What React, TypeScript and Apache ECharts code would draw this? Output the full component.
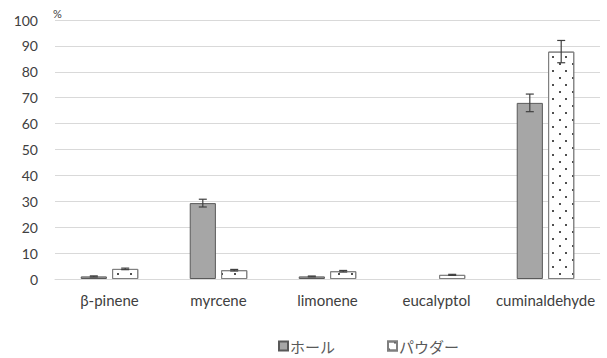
import React, { useEffect, useRef } from "react";
import * as echarts from "echarts";

const categories = ["β-pinene", "myrcene", "limonene", "eucalyptol", "cuminaldehyde"];
const wholeValues = [1.0, 29.3, 1.0, 0, 68.0];
const wholeErrors = [0.2, 1.5, 0.15, 0, 3.4];
const powderValues = [3.9, 3.4, 3.0, 1.6, 87.8];
const powderErrors = [0.3, 0.3, 0.3, 0.2, 4.3];
const yTicks = { min: 0, max: 100, interval: 10 };

const WHOLE = "ホール";
const POWDER = "パウダー";

const BAR_WIDTH = 0.24; // share of the category band
const BAR_GAP = 0.2; // share of the bar width

const latin = "Lato, 'Noto Sans', sans-serif";
const cjk = "'Noto Sans CJK JP', 'Noto Sans', sans-serif";

function errorSeries(values: number[], errors: number[], side: number) {
  return {
    type: "custom",
    name: side < 0 ? "whole-err" : "powder-err",
    z: 5,
    silent: true,
    data: values.map((v, i) => [i, v, errors[i]]),
    renderItem: (params: any, api: any) => {
      const xi = api.value(0);
      const v = api.value(1);
      const e = api.value(2);
      if (!e) return null;
      const band = api.size([1, 0])[0];
      const off = ((band * BAR_WIDTH * (1 + BAR_GAP)) / 2) * side;
      const c = api.coord([xi, v]);
      const hi = api.coord([xi, v + e]);
      const lo = api.coord([xi, v - e]);
      const x = c[0] + off;
      const cap = 4;
      const style = { stroke: "#404040", lineWidth: 1.2 };
      return {
        type: "group",
        children: [
          { type: "line", shape: { x1: x, y1: hi[1], x2: x, y2: lo[1] }, style },
          { type: "line", shape: { x1: x - cap, y1: hi[1], x2: x + cap, y2: hi[1] }, style },
          { type: "line", shape: { x1: x - cap, y1: lo[1], x2: x + cap, y2: lo[1] }, style },
        ],
      };
    },
  };
}

export default function App() {
  const ref = useRef<HTMLDivElement>(null);

  useEffect(() => {
    if (!ref.current) return;
    const chart = echarts.init(ref.current, null, { renderer: "svg" });
    chart.setOption({
      animation: false,
      backgroundColor: "#ffffff",
      grid: { left: 55, right: 7, top: 20, bottom: 79 },
      legend: {
        data: [WHOLE, POWDER],
        left: 273,
        top: 332,
        itemWidth: 9,
        itemHeight: 9,
        itemGap: 52,
        icon: "rect",
        textStyle: { fontFamily: cjk, fontSize: 15, lineHeight: 18, color: "#595959", padding: [0, 0, 0, -3] },
      },
      xAxis: {
        type: "category",
        data: categories,
        axisLine: { lineStyle: { color: "#d9d9d9" } },
        axisTick: { show: false },
        axisLabel: { interval: 0, fontFamily: latin, fontSize: 15, color: "#404040", margin: 13 },
      },
      yAxis: {
        type: "value",
        min: yTicks.min,
        max: yTicks.max,
        interval: yTicks.interval,
        name: "%",
        nameLocation: "end",
        nameGap: 1,
        nameTextStyle: { fontFamily: latin, fontSize: 11, color: "#404040", align: "left", padding: [0, 0, 0, -2] },
        axisLine: { show: false },
        axisTick: { show: false },
        axisLabel: { fontFamily: latin, fontSize: 14, color: "#404040", margin: 17 },
        splitLine: { lineStyle: { color: "#d9d9d9", width: 1 } },
      },
      series: [
        {
          name: WHOLE,
          type: "bar",
          data: wholeValues.map((v) => ({
            value: v,
            itemStyle: v === 0 ? { borderWidth: 0 } : undefined,
          })),
          barWidth: `${BAR_WIDTH * 100}%`,
          barGap: `${BAR_GAP * 100}%`,
          itemStyle: { color: "#a6a6a6", borderColor: "#595959", borderWidth: 1 },
        },
        {
          name: POWDER,
          type: "bar",
          data: powderValues,
          barWidth: `${BAR_WIDTH * 100}%`,
          itemStyle: {
            color: "#ffffff",
            borderColor: "#7f7f7f",
            borderWidth: 1,
            decal: {
              symbol: "rect",
              symbolSize: 1,
              color: "#505050",
              backgroundColor: "#ffffff",
              dashArrayX: [
                [1.5, 10.5],
                [0, 6, 1.5, 4.5],
              ],
              dashArrayY: [1.5, 4.5],
              rotation: 0,
            },
          },
        },
        errorSeries(wholeValues, wholeErrors, -1),
        errorSeries(powderValues, powderErrors, 1),
      ],
    });
    return () => chart.dispose();
  }, []);

  return (
    <div
      ref={ref}
      style={{ position: "fixed", left: 0, top: 0, width: 607, height: 358 }}
    />
  );
}
